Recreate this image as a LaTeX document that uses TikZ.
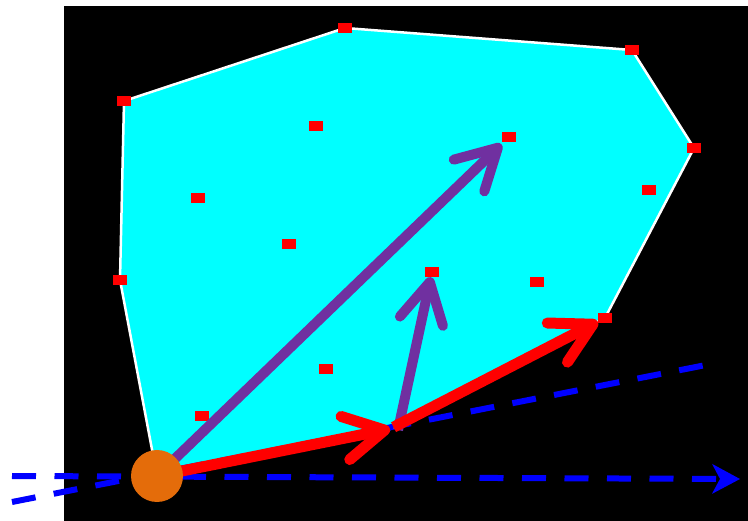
\documentclass[tikz,border=0pt]{standalone}
\usetikzlibrary{arrows.meta}
\definecolor{hullcyan}{RGB}{0,255,255}
\definecolor{vecpurple}{RGB}{112,48,160}
\definecolor{pivotorange}{RGB}{228,108,10}
\tikzset{
  pt/.style={rectangle, fill=red, minimum width=14pt, minimum height=10pt, inner sep=0pt},
  pivot/.style={circle, fill=pivotorange, minimum size=52pt, inner sep=0pt},
  edgevec/.style={draw=red, line width=11pt, -{Straight Barb[round, length=40pt, width=44pt]}},
  probevec/.style={draw=vecpurple, line width=10pt, -{Straight Barb[round, length=40pt, width=44pt]}},
  sweep/.style={draw=blue, line width=6pt, dash pattern=on 24pt off 18.5pt},
}
\begin{document}
\begin{tikzpicture}[x=1pt, y=-1pt]
        % Frame
        \useasboundingbox[fill=white] (0,0) rectangle (748,521);
        \fill[black] (64,6) rectangle (748,521);

        % Hull vertices
        \coordinate (p0) at (157,476);
        \coordinate (p1) at (120,280);
        \coordinate (p2) at (124,101);
        \coordinate (p3) at (345,28);
        \coordinate (p4) at (632,50);
        \coordinate (p5) at (694,148);
        \coordinate (p6) at (605,318);
        \coordinate (p7) at (390,429);
        \filldraw[fill=hullcyan, draw=white, line width=2.5pt, line join=round]
            (p0) -- (p1) -- (p2) -- (p3) -- (p4) -- (p5) -- (p6) -- (p7) -- cycle;

        % Points
        \foreach \i in {1,...,6}
            \node[pt] (v\i) at (p\i) {};
        \foreach \px/\py [count=\i] in {316/126, 509/137, 198/198, 649/190, 289/244,
                                        432/272, 537/282, 326/369, 202/416}
            \node[pt] (a\i) at (\px,\py) {};

        % Sweep lines
        \coordinate (h0) at (12,476);
        \coordinate (h1) at (740,479);
        \coordinate (g0) at (12,502);
        \coordinate (g1) at (706,365);
        \draw[sweep, -{Stealth[length=28pt, width=30pt, inset=8pt, line width=0pt]}] (h0) -- (h1);
        \draw[sweep] (g0) -- (g1);

        % Probe vectors
        \coordinate (q) at (398,430);
        \draw[probevec, shorten >=3pt] (p0) -- (a2);
        \draw[probevec] (q) -- (a6);

        % Hull edges
        \draw[edgevec] (p0) -- (p7);
        \draw[edgevec, shorten <=4pt] (p7) -- (v6);

        % Pivot
        \node[pivot] (pv) at (p0) {};
\end{tikzpicture}
\end{document}
